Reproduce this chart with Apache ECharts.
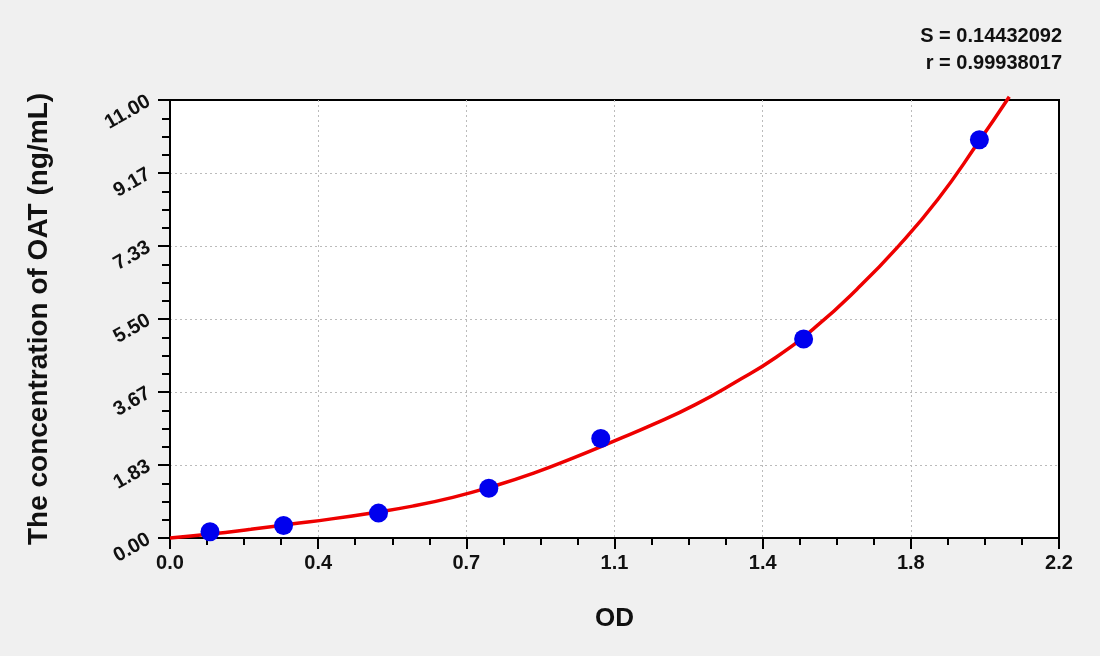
<!DOCTYPE html>
<html>
<head>
<meta charset="utf-8">
<script src="https://cdn.jsdelivr.net/npm/echarts@6/dist/echarts.min.js"></script>
<style>
html,body{margin:0;padding:0;background:#f0f0f0;}
#c{width:1100px;height:656px;}
</style>
</head>
<body>
<div id="c"></div>
<script>
// Standard points (OD, concentration)
var pointOD   = [0.099, 0.281, 0.516, 0.789, 1.066, 1.568, 2.003];
var pointConc = [0.156, 0.312, 0.625, 1.25, 2.5, 5.0, 10.0];
// Fitted curve
var curveOD   = [0, 0.1, 0.2, 0.3, 0.4, 0.5, 0.6, 0.7, 0.8, 0.9, 1.0, 1.1, 1.2, 1.3, 1.4, 1.5, 1.6, 1.7, 1.8, 1.9, 2.0, 2.077];
var curveConc = [0, 0.10, 0.22, 0.35, 0.48, 0.63, 0.80, 1.02, 1.30, 1.63, 2.02, 2.44, 2.87, 3.35, 3.92, 4.54, 5.32, 6.25, 7.30, 8.50, 9.93, 11.08];
var xTickLabels = ['0.0', '0.4', '0.7', '1.1', '1.4', '1.8', '2.2'];
var yTickLabels = ['0.00', '1.83', '3.67', '5.50', '7.33', '9.17', '11.00'];
var statLines = ['S = 0.14432092', 'r = 0.99938017'];

var FONT = 'Liberation Sans, Arial, sans-serif';
var xInt = 2.2 / 6, yInt = 11 / 6;

var pts = pointOD.map(function (x, i) { return [x, pointConc[i]]; });
var crv = curveOD.map(function (x, i) { return [x, curveConc[i]]; });

var chart = echarts.init(document.getElementById('c'));
chart.setOption({
  backgroundColor: '#f0f0f0',
  animation: false,
  grid: { left: 170, right: 41, top: 100, bottom: 118, show: true, backgroundColor: '#ffffff', borderColor: '#000', borderWidth: 2 },
  graphic: [
    { type: 'text', x: 1062, y: 36, style: { text: statLines[0], textAlign: 'right', textVerticalAlign: 'middle', font: 'bold 20px ' + FONT, fill: '#111' } },
    { type: 'text', x: 1062, y: 63, style: { text: statLines[1], textAlign: 'right', textVerticalAlign: 'middle', font: 'bold 20px ' + FONT, fill: '#111' } }
  ],
  xAxis: {
    type: 'value', min: 0, max: 2.2, interval: xInt,
    name: 'OD', nameLocation: 'middle', nameGap: 68,
    nameTextStyle: { fontFamily: FONT, fontWeight: 'bold', fontSize: 26, color: '#111' },
    axisLine: { show: true, lineStyle: { color: '#000', width: 2 } },
    axisTick: { show: true, inside: false, length: 11, lineStyle: { color: '#000', width: 2 } },
    minorTick: { show: true, splitNumber: 4, length: 7, lineStyle: { color: '#000', width: 2 } },
    axisLabel: { margin: 15, fontFamily: FONT, fontWeight: 'bold', fontSize: 20, color: '#111',
      formatter: function (v) { return xTickLabels[Math.round(v / xInt)]; } },
    splitLine: { show: true, showMinLine: false, showMaxLine: false, lineStyle: { color: '#bbbbbb', type: [2, 3], width: 1 } }
  },
  yAxis: {
    type: 'value', min: 0, max: 11, interval: yInt,
    name: 'The concentration of OAT (ng/mL)', nameLocation: 'middle', nameGap: 117,
    nameTextStyle: { fontFamily: FONT, fontWeight: 'bold', fontSize: 28, color: '#111' },
    axisLine: { show: true, lineStyle: { color: '#000', width: 2 } },
    axisTick: { show: true, inside: false, length: 12, lineStyle: { color: '#000', width: 2 } },
    minorTick: { show: true, splitNumber: 4, length: 8, lineStyle: { color: '#000', width: 2 } },
    axisLabel: { margin: 21, rotate: 30, fontFamily: FONT, fontWeight: 'bold', fontSize: 20, color: '#111',
      formatter: function (v) { return yTickLabels[Math.round(v / yInt)]; } },
    splitLine: { show: true, showMinLine: false, showMaxLine: false, lineStyle: { color: '#bbbbbb', type: [2, 3], width: 1 } }
  },
  series: [
    { type: 'line', data: crv, smooth: true, showSymbol: false, clip: false,
      lineStyle: { color: '#ee0000', width: 3.5 }, z: 3 },
    { type: 'scatter', data: pts, symbol: 'circle', symbolSize: 19,
      itemStyle: { color: '#0000ee', opacity: 1 }, z: 4 }
  ]
});
</script>
</body>
</html>
